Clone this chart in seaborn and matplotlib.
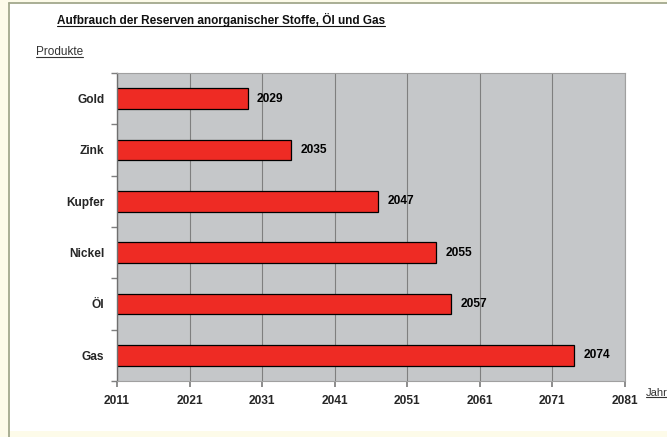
import matplotlib
matplotlib.use("Agg")
import matplotlib.pyplot as plt
import seaborn as sns
import pandas as pd
from matplotlib.patches import Rectangle
from matplotlib.lines import Line2D
from matplotlib.ticker import FixedLocator

produkte = ['Gold', 'Zink', 'Kupfer', 'Nickel', 'Öl', 'Gas']
jahre = [2029, 2035, 2047, 2055, 2057, 2074]
xticks = [2011, 2021, 2031, 2041, 2051, 2061, 2071, 2081]

df = pd.DataFrame({'Produkt': produkte, 'Jahr': jahre})

sns.set_theme(style='white')
plt.rcParams['font.family'] = ['Liberation Sans', 'DejaVu Sans']

W, H = 667, 437
fig = plt.figure(figsize=(6.67, 4.37), dpi=100)
fig.patch.set_facecolor('#fdfbe9')
# white panel, thin olive frame on left and top
fig.add_artist(Rectangle((9 / W, 1 - 431 / H), 1, (431 - 3) / H,
                         transform=fig.transFigure, facecolor='white',
                         edgecolor='none', zorder=-1))
fig.add_artist(Line2D([9 / W, 9 / W], [0, 1 - 3 / H], transform=fig.transFigure,
                      color='#a3a88c', linewidth=1.3))
fig.add_artist(Line2D([9 / W, 1], [1 - 3 / H, 1 - 3 / H], transform=fig.transFigure,
                      color='#a3a88c', linewidth=1.3))

ax = fig.add_axes([117 / W, 1 - 381 / H, (625 - 117) / W, (381 - 73) / H])
ax.set_facecolor('#c5c7c9')

sns.barplot(data=df, x='Jahr', y='Produkt', orient='h', color='#ee2b24',
            edgecolor='black', linewidth=0.9, width=0.4, saturation=1, ax=ax)

ax.set_xlim(2011, 2081)
ax.set_xticks(xticks)
ax.set_xticklabels([str(t) for t in xticks], fontweight='bold', fontsize=8.6)
ax.xaxis.grid(True, color='#7f7f7f', linewidth=0.8)
ax.set_axisbelow(True)
ax.tick_params(axis='x', length=4, color='#7f7f7f', pad=6, bottom=True)
ax.tick_params(axis='y', length=0, pad=9)
ax.yaxis.set_minor_locator(FixedLocator([i + 0.5 for i in range(-1, len(produkte))]))
ax.tick_params(axis='y', which='minor', length=4, color='#7f7f7f', left=True)
for lab in ax.get_yticklabels():
    lab.set_fontweight('bold')
    lab.set_fontsize(8.6)
ax.set_xlabel('')
ax.set_ylabel('')
for s in ['top', 'right', 'bottom']:
    ax.spines[s].set_color('#a0a0a0')
    ax.spines[s].set_linewidth(0.8)
ax.spines['left'].set_color('#6f6f6f')
ax.spines['left'].set_linewidth(1.0)

for i, j in enumerate(jahre):
    ax.text(j + 1.3, i, str(j), va='center', ha='left', fontsize=8.6,
            fontweight='bold', color='black')

title = fig.text(57 / W, 1 - 20 / H, 'Aufbrauch der Reserven anorganischer Stoffe, Öl und Gas',
                 fontsize=8.5, fontweight='bold', va='center', ha='left', color='#111111')
prod = fig.text(36 / W, 1 - 52 / H, 'Produkte', fontsize=8.5, va='center', ha='left',
                color='#333333')
jahr = fig.text(646 / W, 1 - 393 / H, 'Jahr', fontsize=8, va='center', ha='left',
                color='#333333')

fig.canvas.draw()
r = fig.canvas.get_renderer()
for t in [title, prod, jahr]:
    bb = t.get_window_extent(r).transformed(fig.transFigure.inverted())
    fig.add_artist(Line2D([bb.x0, bb.x1], [bb.y0 + 0.003, bb.y0 + 0.003],
                          transform=fig.transFigure, color=t.get_color(), linewidth=0.8))

fig.savefig('out.png', dpi=100, facecolor=fig.get_facecolor())
